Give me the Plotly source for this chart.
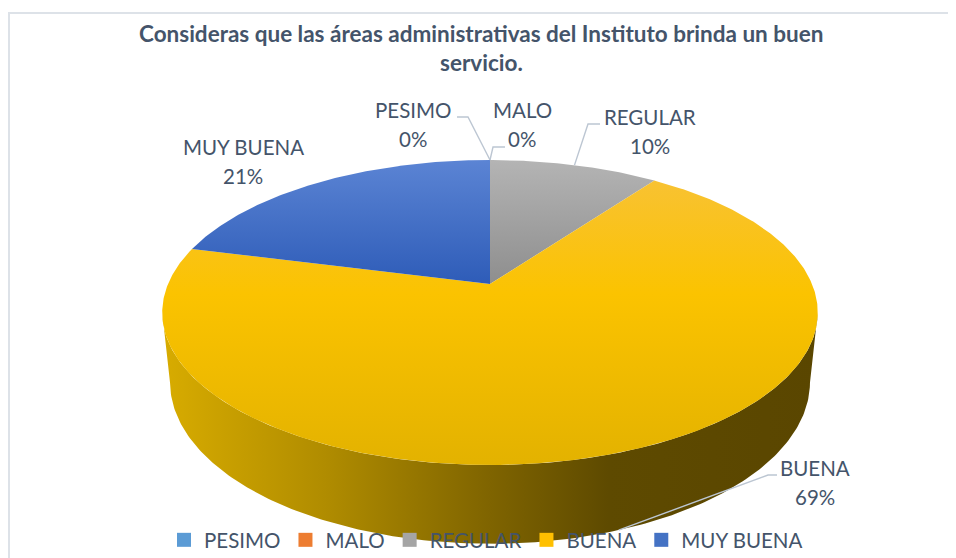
import numpy as np
import plotly.graph_objects as go

# ---------------- data ----------------
title_lines = ["Consideras que las áreas administrativas del Instituto brinda un buen", "servicio."]
categories = ["PESIMO", "MALO", "REGULAR", "BUENA", "MUY BUENA"]
percent = [0, 0, 10, 69, 21]
pct_labels = ["0%", "0%", "10%", "69%", "21%"]

# ---------------- styles ----------------
legend_colors = ["#5B9BD5", "#ED7D31", "#A5A5A5", "#FFC000", "#4472C4"]
# vertical gradients: 0 = bottom of the face, 1 = top of the face
top_scales = [
    [[0, "#4A88C6"], [1, "#6FA8DC"]],
    [[0, "#D96A20"], [1, "#F28C45"]],
    [[0, "#8E8E8E"], [1, "#B4B4B4"]],
    [[0, "#E3B200"], [0.6, "#FBC300"], [1, "#F8C232"]],
    [[0, "#2E5CB8"], [1, "#5B84D4"]],
]
side_scales = [
    [[0, "#4A88C6"], [1, "#25496C"]],
    [[0, "#D96A20"], [1, "#7A3A10"]],
    [[0, "#8E8E8E"], [1, "#4E4E4E"]],
    [[0, "#D8AC00"], [0.25, "#B08C00"], [0.5, "#7F6400"], [0.68, "#5E4A00"], [1, "#5A4600"]],
    [[0, "#2E5CB8"], [1, "#1A3366"]],
]
TEXT = "#44546A"
FONT = "Lato"
LEADER = "#BCC6D2"

# page offset (browser body margin) so that data units equal screen pixels
OFF = 8

# label placement (screen pixels)
label_pos = [(413, 110), (522, 110), (650, 117), (815, 468), (243, 147)]
leader_elbows = [[(468, 117), (457, 117)], [(493, 147), (505, 147)],
                 [(588, 124), (600, 124)], [(768, 475), (777, 475)], None]
leader_on_side = [False, False, False, True, False]

# ---------------- 3D pie projection ----------------
CX, CY = 490, 284
S = 322
ALPHA = np.radians(27.2)
L = 4.76
DEPTH = 0.245


def proj(theta_deg, r=1.0, z=0.0):
    th = np.radians(np.asarray(theta_deg, dtype=float))
    X = r * np.sin(th)
    Y = r * np.cos(th)
    v = Y * np.sin(ALPHA) + z * np.cos(ALPHA)
    w = L + Y * np.cos(ALPHA) - z * np.sin(ALPHA)
    return CX + S * X * L / w, CY - S * v * L / w


vis_lo = np.degrees(np.arccos(-np.cos(ALPHA) / L))
vis_hi = 360 - vis_lo

fig = go.Figure()

starts = np.concatenate([[0], np.cumsum(percent)[:-1]]) * 3.6
ends = np.cumsum(percent) * 3.6

# side walls first
for i, (a, b) in enumerate(zip(starts, ends)):
    lo, hi = max(a, vis_lo), min(b, vis_hi)
    if hi <= lo:
        continue
    t = np.linspace(lo, hi, 200)
    xt, yt = proj(t)
    xb, yb = proj(t[::-1], z=-DEPTH)
    fig.add_trace(go.Scatter(
        x=np.concatenate([xt, xb, xt[:1]]), y=np.concatenate([yt, yb, yt[:1]]),
        mode="lines", fill="toself", line=dict(width=0),
        fillgradient=dict(type="horizontal", colorscale=side_scales[i],
                          start=CX - S * 1.02, stop=CX + S * 1.02),
        hoverinfo="skip", showlegend=False))

# top faces
for i, (a, b) in enumerate(zip(starts, ends)):
    if b - a <= 0:
        continue
    t = np.linspace(a, b, max(int((b - a) * 2), 10))
    xa, ya = proj(t)
    xs = np.concatenate([[CX], xa, [CX]])
    ys = np.concatenate([[CY], ya, [CY]])
    fig.add_trace(go.Scatter(
        x=xs, y=ys, mode="lines", fill="toself", line=dict(width=0),
        fillgradient=dict(type="vertical", colorscale=top_scales[i]),
        hoverinfo="skip", showlegend=False))

# leader lines and labels
annotations = []
for i, cat in enumerate(categories):
    mid = (starts[i] + ends[i]) / 2
    if leader_elbows[i] is not None:
        if leader_on_side[i]:
            ax_, ay_ = proj(mid, z=-DEPTH)
        else:
            ax_, ay_ = proj(mid)
        pts = [(float(ax_), float(ay_))] + leader_elbows[i]
        fig.add_trace(go.Scatter(x=[p[0] for p in pts], y=[p[1] for p in pts],
                                 mode="lines", line=dict(color=LEADER, width=1.4),
                                 hoverinfo="skip", showlegend=False))
    lx, ly = label_pos[i]
    for k, txt in enumerate([cat, pct_labels[i]]):
        annotations.append(dict(x=lx, y=ly + 29 * k, xref="x", yref="y", text=txt,
                                showarrow=False, xanchor="center", yanchor="middle",
                                font=dict(family=FONT, size=20.5, color=TEXT)))

# title
for k, line in enumerate(title_lines):
    annotations.append(dict(x=481, y=33 + 29 * k, xref="x", yref="y", text="<b>" + line + "</b>",
                            showarrow=False, xanchor="center", yanchor="middle",
                            font=dict(family=FONT, size=22.5, color=TEXT)))

# legend entries
for cat, col in zip(categories, legend_colors):
    fig.add_trace(go.Scatter(x=[None], y=[None], mode="markers", name=cat,
                             marker=dict(symbol="square", size=14, color=col)))

fig.update_layout(
    width=956, height=558, autosize=False,
    margin=dict(l=0, r=0, t=0, b=0),
    paper_bgcolor="white", plot_bgcolor="white",
    xaxis=dict(range=[OFF, 956 + OFF], visible=False, fixedrange=True),
    yaxis=dict(range=[558 + OFF, OFF], visible=False, fixedrange=True),
    annotations=annotations,
    showlegend=True,
    legend=dict(orientation="h", x=(486 - OFF) / 956, xanchor="center",
                y=1 - (540 - OFF) / 558, yanchor="middle",
                bgcolor="rgba(0,0,0,0)", font=dict(family=FONT, size=20.5, color=TEXT),
                itemwidth=30, tracegroupgap=0),
    shapes=[dict(type="path", path="M 9,600 L 9,13 L 1000,13", xref="x", yref="y",
                 line=dict(color="#DDE2E8", width=2))],
)

fig.write_html("out.html")
